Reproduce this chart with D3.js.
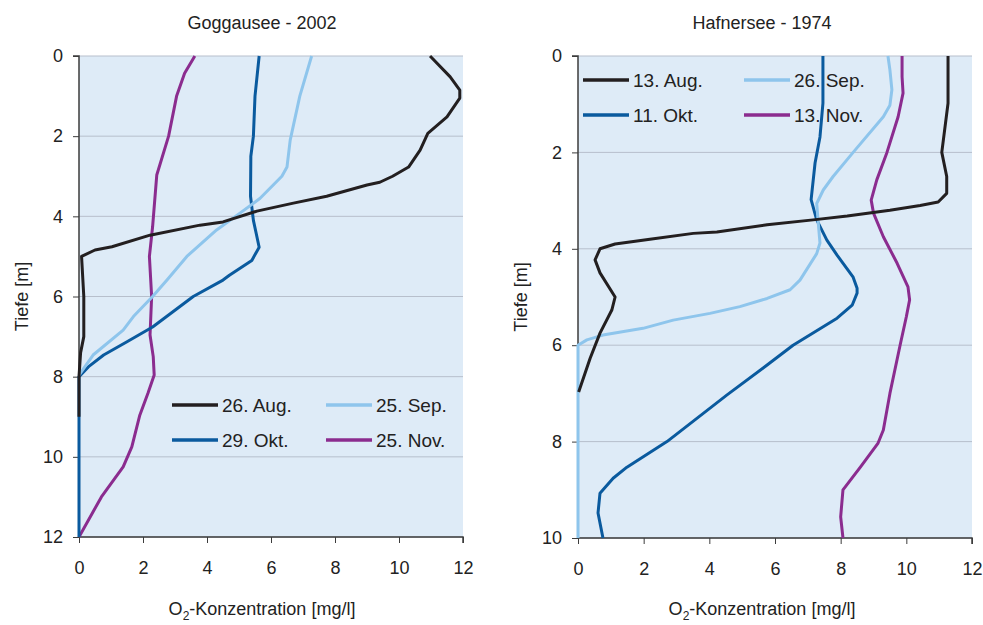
<!DOCTYPE html>
<html><head><meta charset="utf-8">
<script src="https://cdn.jsdelivr.net/npm/d3@7"></script>
<style>body{margin:0;background:#fff}svg{display:block;font-family:"Liberation Sans",Arial,sans-serif}</style>
</head><body>
<svg id="c" width="983" height="625"></svg>
<script>
// ---------- Data ----------
const xTicks = [0, 2, 4, 6, 8, 10, 12];
const leftYTicks = [0, 2, 4, 6, 8, 10, 12];
const rightYTicks = [0, 2, 4, 6, 8, 10];
const leftTitle = "Goggausee - 2002";
const rightTitle = "Hafnersee - 1974";
const leftLabels = ["26. Aug.", "25. Sep.", "29. Okt.", "25. Nov."];
const rightLabels = ["13. Aug.", "26. Sep.", "11. Okt.", "13. Nov."];
const colors = ["#231f20", "#8ec5ec", "#0a5a9e", "#8b2c8f"];

// Goggausee 2002: depth [m], O2 [mg/l]
const gAugDepth = [0,0.52,0.85,1.05,1.52,1.93,2.35,2.77,3.0,3.15,3.22,3.5,3.67,3.87,4.14,4.22,4.47,4.76,4.84,5.0,6.0,7.0,7.4,8,9];
const gAugO2    = [10.97,11.6,11.9,11.9,11.5,10.9,10.66,10.3,9.8,9.4,9.0,7.74,6.7,5.56,4.5,3.78,2.22,1.03,0.5,0.08,0.15,0.15,0.05,0,0];
const gSepDepth = [0,1.0,2.1,2.77,3.0,3.55,3.92,4.34,5.0,5.59,6.0,6.5,6.84,7.46,7.96];
const gSepO2    = [7.27,6.9,6.6,6.5,6.34,5.66,5.03,4.3,3.37,2.75,2.3,1.7,1.38,0.44,0];
const gOktDepth = [0,1.0,2.0,2.5,3.5,4.1,4.77,5.1,5.47,5.59,6.0,6.76,7.13,7.46,7.75,8,9,10,11,12];
const gOktO2    = [5.63,5.5,5.45,5.37,5.36,5.45,5.63,5.4,4.7,4.5,3.57,2.3,1.5,0.77,0.3,0,0,0,0,0];
const gNovDepth = [0,0.43,1.0,2.0,2.97,4.26,5.0,6.0,6.96,7.5,7.96,8.4,8.96,9.75,10.25,11.0,12];
const gNovO2    = [3.62,3.3,3.05,2.8,2.43,2.3,2.2,2.27,2.22,2.32,2.35,2.16,1.9,1.65,1.38,0.7,0];

// Hafnersee 1974
const hAugDepth = [0,0.98,2.0,2.5,2.85,3.03,3.1,3.2,3.32,3.4,3.5,3.65,3.68,3.8,3.9,4.0,4.23,4.5,5.0,5.27,5.75,6.27,6.97];
const hAugO2    = [11.27,11.27,11.08,11.23,11.23,10.97,10.42,9.5,8.2,7.16,5.76,4.23,3.51,2.19,1.13,0.67,0.52,0.67,1.13,1.03,0.67,0.37,0.02];
const hSepDepth = [0,0.29,0.7,1.02,1.26,2.0,2.5,2.78,3.06,3.4,3.88,4.1,4.65,4.85,5.03,5.2,5.34,5.48,5.65,5.79,5.89,6.0,7,8,9,10];
const hSepO2    = [9.44,9.5,9.56,9.5,9.3,8.38,7.77,7.47,7.27,7.31,7.37,7.27,6.76,6.46,5.76,4.93,4.02,2.9,1.98,0.76,0.27,0,0,0,0,0];
const hOktDepth = [0,0.98,1.68,2.22,2.98,3.4,3.82,4.13,4.59,4.82,4.92,5.17,5.44,6.0,6.41,7.03,8.0,8.53,8.76,9.07,9.48,10];
const hOktO2    = [7.46,7.46,7.37,7.22,7.1,7.27,7.58,7.89,8.38,8.5,8.5,8.35,7.89,6.55,5.76,4.54,2.71,1.49,1.07,0.67,0.61,0.76];
const hNovDepth = [0,0.43,0.77,1.26,2.0,2.57,2.99,3.26,3.75,4.3,4.79,5.06,5.41,6.0,7.0,7.76,8.03,8.53,9.0,9.56,10];
const hNovO2    = [9.87,9.87,9.9,9.75,9.41,9.1,8.93,9.0,9.3,9.72,10.05,10.1,10.0,9.81,9.5,9.3,9.14,8.6,8.07,8.0,8.07];

// ---------- Drawing ----------
const svg = d3.select("#c");
const zip = (d, v) => d.map((dd, i) => ({d: dd, v: v[i]}));

function panel(cfg) {
  const x = d3.scaleLinear().domain([0, 12]).range([cfg.x0, cfg.x1]);
  const y = d3.scaleLinear().domain([0, cfg.dMax]).range([56, cfg.yBottom]);
  const g = svg.append("g");
  g.append("rect").attr("x", cfg.x0).attr("y", 56).attr("width", cfg.x1 - cfg.x0).attr("height", cfg.yBottom - 56).attr("fill", "#deebf7");
  // grid
  g.selectAll(".grid").data(cfg.yTicks).enter().append("line")
    .attr("x1", cfg.x0).attr("x2", cfg.x1).attr("y1", d => y(d)).attr("y2", d => y(d))
    .attr("stroke", "#b7bfcc").attr("stroke-width", 1);
  // y axis
  const ya = g.append("g").attr("transform", `translate(${cfg.x0},0)`)
    .call(d3.axisLeft(y).tickValues(cfg.yTicks).tickSize(6).tickPadding(10).tickFormat(d3.format("d")));
  ya.select(".domain").attr("stroke", "#3c3c3c").attr("stroke-width", 1.5).attr("d", `M-6,${y(0)}H0V${cfg.yBottom}`);
  ya.selectAll(".tick line").attr("stroke", "#3c3c3c");
  ya.selectAll(".tick text").attr("font-size", 18).attr("fill", "#222").attr("font-family", "Liberation Sans, Arial, sans-serif");
  // x axis
  const xa = g.append("g").attr("transform", `translate(0,${cfg.yBottom})`)
    .call(d3.axisBottom(x).tickValues(xTicks).tickSize(6).tickPadding(18).tickFormat(d3.format("d")));
  xa.select(".domain").attr("stroke", "#3c3c3c").attr("stroke-width", 1.5).attr("d", `M${cfg.x0},0H${cfg.x1}V6`);
  xa.selectAll(".tick line").attr("stroke", "#3c3c3c");
  xa.selectAll(".tick text").attr("font-size", 18).attr("fill", "#222").attr("font-family", "Liberation Sans, Arial, sans-serif");

  // lines (drawn in reverse order so the first series is on top)
  const line = d3.line().x(p => x(p.v)).y(p => y(p.d));
  for (let i = cfg.series.length - 1; i >= 0; i--) {
    g.append("path").datum(cfg.series[i]).attr("d", line)
      .attr("fill", "none").attr("stroke", colors[i]).attr("stroke-width", 3)
      .attr("stroke-linejoin", "round");
  }
  // legend
  cfg.labels.forEach((lab, i) => {
    const lx = cfg.legX + (i % 2) * cfg.legDX;
    const ly = cfg.legY + Math.floor(i / 2) * 35;
    g.append("line").attr("x1", lx).attr("x2", lx + 46).attr("y1", ly).attr("y2", ly)
      .attr("stroke", colors[i]).attr("stroke-width", 3.5);
    g.append("text").attr("x", lx + 50).attr("y", ly + 6.5).attr("font-size", 19).attr("fill", "#222").text(lab);
  });
  // titles
  svg.append("text").attr("x", cfg.titleX).attr("y", 29).attr("text-anchor", "middle").attr("font-size", 18).attr("fill", "#222").text(cfg.title);
  const xt = svg.append("text").attr("x", cfg.titleX).attr("y", 615).attr("text-anchor", "middle").attr("font-size", 18).attr("fill", "#222");
  xt.append("tspan").text("O");
  xt.append("tspan").attr("font-size", 12).attr("dy", 5).text("2");
  xt.append("tspan").attr("dy", -5).text("-Konzentration [mg/l]");
  svg.append("text").attr("transform", `translate(${cfg.x0 - 51},${(56 + cfg.yBottom) / 2}) rotate(-90)`)
    .attr("text-anchor", "middle").attr("font-size", 18).attr("fill", "#222").text("Tiefe [m]");
}

panel({
  x0: 79, x1: 463, yBottom: 537, dMax: 12, yTicks: leftYTicks,
  series: [zip(gAugDepth, gAugO2), zip(gSepDepth, gSepO2), zip(gOktDepth, gOktO2), zip(gNovDepth, gNovO2)],
  labels: leftLabels, legX: 172, legY: 405, legDX: 154, title: leftTitle, titleX: 262
});
panel({
  x0: 578, x1: 972, yBottom: 538, dMax: 10, yTicks: rightYTicks,
  series: [zip(hAugDepth, hAugO2), zip(hSepDepth, hSepO2), zip(hOktDepth, hOktO2), zip(hNovDepth, hNovO2)],
  labels: rightLabels, legX: 583, legY: 80, legDX: 161, title: rightTitle, titleX: 762
});
</script>
</body></html>
